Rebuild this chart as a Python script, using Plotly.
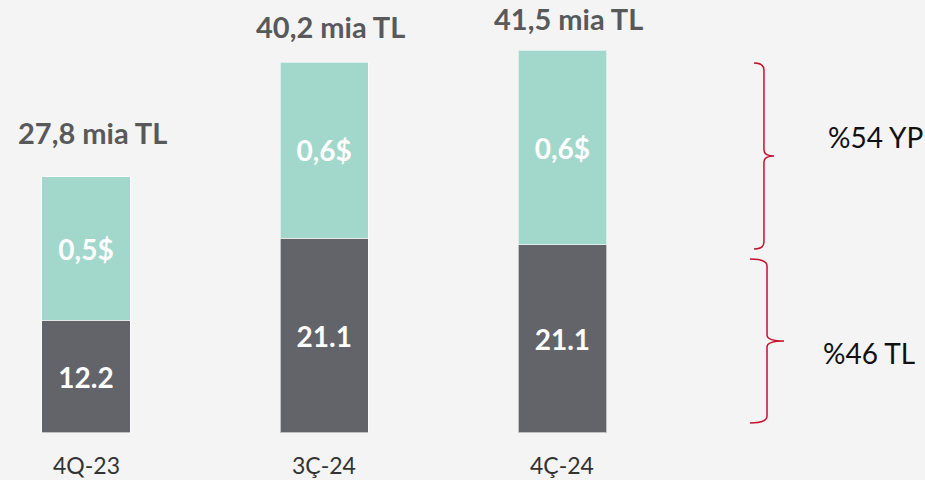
import plotly.graph_objects as go

# ---- data ----
periods = ["4Q-23", "3Ç-24", "4Ç-24"]
tl_part = [12.2, 21.1, 20.4]          # dark segment (TL), bar heights
fx_part = [15.6, 19.1, 21.1]          # teal segment (YP), bar heights
tl_labels = ["12.2", "21.1", "21.1"]
fx_labels = ["0,5$", "0,6$", "0,6$"]
totals = [27.8, 40.2, 41.5]
total_labels = ["27,8 mia TL", "40,2 mia TL", "41,5 mia TL"]
share_labels = ["%54 YP", "%46 TL"]

W, H = 925, 480
DARK = "#636469"
TEAL = "#a2d8cb"
RED = "#c8102e"
FONT = "Lato"

fig = go.Figure()
fig.add_trace(go.Bar(
    x=periods, y=tl_part, name="TL",
    marker=dict(color=DARK, line=dict(color="rgba(255,255,255,0.6)", width=1)),
    text=tl_labels, textposition="inside", insidetextanchor="middle",
    textangle=0, constraintext="none",
    textfont=dict(family=FONT, size=28, color="white", weight="bold"),
    width=0.37, hoverinfo="skip",
))
fig.add_trace(go.Bar(
    x=periods, y=fx_part, name="YP",
    marker=dict(color=TEAL, line=dict(color="rgba(255,255,255,0.6)", width=1)),
    text=fx_labels, textposition="inside", insidetextanchor="middle",
    textangle=0, constraintext="none",
    textfont=dict(family=FONT, size=28, color="white", weight="bold"),
    width=0.37, hoverinfo="skip",
))

# totals above bars
shifts = [44, 36, 32]
for p, t, lab, s in zip(periods, totals, total_labels, shifts):
    fig.add_annotation(x=p, y=t, text=lab, showarrow=False, xshift=6, yshift=s,
                       yanchor="middle",
                       font=dict(family=FONT, size=29, color="#58595b", weight="bold"))

# category labels under bars
for p in periods:
    fig.add_annotation(x=p, y=0, text=p, showarrow=False, yanchor="middle", yshift=-32,
                       font=dict(family=FONT, size=23, color="#333333"))


def px(x, y):
    return f"{x / W:.4f},{1 - y / H:.4f}"


def brace(x0, xl, xt, y0, ym, y1):
    # curly brace: hooks at xl, spine at x0, tip at xt
    return (f"M {px(xl, y0)} Q {px(x0, y0)} {px(x0, y0 + 7)} "
            f"L {px(x0, ym - 6)} Q {px(x0, ym)} {px(xt, ym)} "
            f"Q {px(x0, ym)} {px(x0, ym + 6)} "
            f"L {px(x0, y1 - 7)} Q {px(x0, y1)} {px(xl, y1)}")


for path in [brace(764, 754, 774, 63, 156, 249), brace(767, 750, 784, 259, 341, 423)]:
    fig.add_shape(type="path", path=path, xref="paper", yref="paper",
                  line=dict(color=RED, width=1.5))

for lab, (xc, yc) in zip(share_labels, [(875, 137), (869, 353)]):
    fig.add_annotation(x=xc / W, y=1 - yc / H, xref="paper", yref="paper", text=lab,
                       xanchor="center", yanchor="middle", showarrow=False,
                       font=dict(family=FONT, size=28, color="#111111"))

fig.update_layout(
    barmode="stack", width=W, height=H, showlegend=False,
    margin=dict(l=0, r=0, t=0, b=0),
    paper_bgcolor="#f4f4f4", plot_bgcolor="#f4f4f4",
    xaxis=dict(range=[-0.361, 3.522], showgrid=False, showticklabels=False,
               zeroline=False, showline=False),
    yaxis=dict(range=[-5.10, 46.96], showgrid=False, showticklabels=False,
               zeroline=False, showline=False),
)

# the page's default body margin would shift the chart by 8px
fig.write_html("out.html", config={"displayModeBar": False},
               post_script="document.body.style.margin='0';document.body.style.overflow='hidden';")
